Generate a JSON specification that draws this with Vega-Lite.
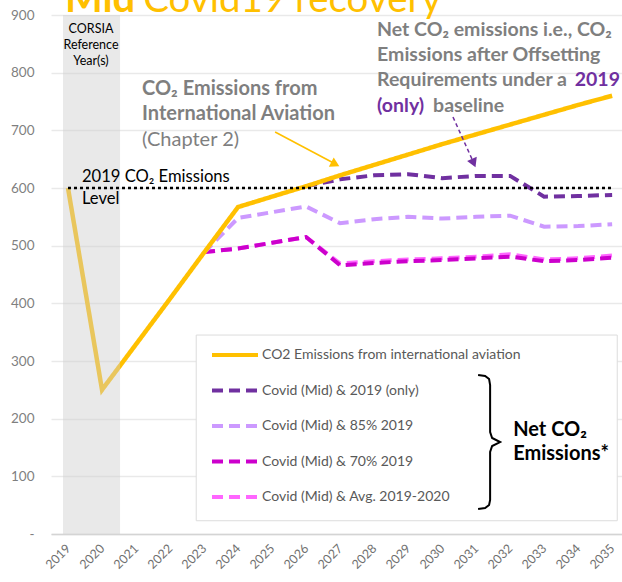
{
  "$schema": "https://vega.github.io/schema/vega-lite/v6.json",
  "width": 571,
  "height": 519,
  "autosize": {"type": "none"},
  "padding": {"left": 51, "top": 15, "right": 0, "bottom": 48},
  "background": "white",
  "config": {
    "view": {"stroke": null},
    "font": "Lato",
    "text": {"font": "Lato"},
    "axis": {"labelFont": "Lato"},
    "legend": {"labelFont": "Lato"}
  },
  "datasets": {
    "lines": [
      {"s": "CO2 Emissions from international aviation", "x": 2019, "y": 600},
      {"s": "CO2 Emissions from international aviation", "x": 2020, "y": 250},
      {"s": "CO2 Emissions from international aviation", "x": 2021, "y": 329},
      {"s": "CO2 Emissions from international aviation", "x": 2022, "y": 408},
      {"s": "CO2 Emissions from international aviation", "x": 2023, "y": 488},
      {"s": "CO2 Emissions from international aviation", "x": 2024, "y": 567},
      {"s": "CO2 Emissions from international aviation", "x": 2025, "y": 585},
      {"s": "CO2 Emissions from international aviation", "x": 2026, "y": 603},
      {"s": "CO2 Emissions from international aviation", "x": 2027, "y": 622},
      {"s": "CO2 Emissions from international aviation", "x": 2028, "y": 640},
      {"s": "CO2 Emissions from international aviation", "x": 2029, "y": 658},
      {"s": "CO2 Emissions from international aviation", "x": 2030, "y": 676},
      {"s": "CO2 Emissions from international aviation", "x": 2031, "y": 693},
      {"s": "CO2 Emissions from international aviation", "x": 2032, "y": 710},
      {"s": "CO2 Emissions from international aviation", "x": 2033, "y": 727},
      {"s": "CO2 Emissions from international aviation", "x": 2034, "y": 744},
      {"s": "CO2 Emissions from international aviation", "x": 2035, "y": 760},
      {"s": "Covid (Mid) & 2019 (only)", "x": 2026, "y": 603},
      {"s": "Covid (Mid) & 2019 (only)", "x": 2027, "y": 615},
      {"s": "Covid (Mid) & 2019 (only)", "x": 2028, "y": 622},
      {"s": "Covid (Mid) & 2019 (only)", "x": 2029, "y": 624},
      {"s": "Covid (Mid) & 2019 (only)", "x": 2030, "y": 617},
      {"s": "Covid (Mid) & 2019 (only)", "x": 2031, "y": 621},
      {"s": "Covid (Mid) & 2019 (only)", "x": 2032, "y": 621},
      {"s": "Covid (Mid) & 2019 (only)", "x": 2033, "y": 585},
      {"s": "Covid (Mid) & 2019 (only)", "x": 2034, "y": 586},
      {"s": "Covid (Mid) & 2019 (only)", "x": 2035, "y": 588},
      {"s": "Covid (Mid) & 85% 2019", "x": 2023, "y": 488},
      {"s": "Covid (Mid) & 85% 2019", "x": 2024, "y": 548},
      {"s": "Covid (Mid) & 85% 2019", "x": 2025, "y": 558},
      {"s": "Covid (Mid) & 85% 2019", "x": 2026, "y": 568},
      {"s": "Covid (Mid) & 85% 2019", "x": 2027, "y": 539},
      {"s": "Covid (Mid) & 85% 2019", "x": 2028, "y": 546},
      {"s": "Covid (Mid) & 85% 2019", "x": 2029, "y": 550},
      {"s": "Covid (Mid) & 85% 2019", "x": 2030, "y": 547},
      {"s": "Covid (Mid) & 85% 2019", "x": 2031, "y": 550},
      {"s": "Covid (Mid) & 85% 2019", "x": 2032, "y": 552},
      {"s": "Covid (Mid) & 85% 2019", "x": 2033, "y": 533},
      {"s": "Covid (Mid) & 85% 2019", "x": 2034, "y": 534},
      {"s": "Covid (Mid) & 85% 2019", "x": 2035, "y": 537},
      {"s": "Covid (Mid) & 70% 2019", "x": 2023, "y": 489},
      {"s": "Covid (Mid) & 70% 2019", "x": 2024, "y": 495},
      {"s": "Covid (Mid) & 70% 2019", "x": 2025, "y": 505},
      {"s": "Covid (Mid) & 70% 2019", "x": 2026, "y": 515},
      {"s": "Covid (Mid) & 70% 2019", "x": 2027, "y": 466},
      {"s": "Covid (Mid) & 70% 2019", "x": 2028, "y": 470},
      {"s": "Covid (Mid) & 70% 2019", "x": 2029, "y": 473},
      {"s": "Covid (Mid) & 70% 2019", "x": 2030, "y": 475},
      {"s": "Covid (Mid) & 70% 2019", "x": 2031, "y": 478},
      {"s": "Covid (Mid) & 70% 2019", "x": 2032, "y": 481},
      {"s": "Covid (Mid) & 70% 2019", "x": 2033, "y": 473},
      {"s": "Covid (Mid) & 70% 2019", "x": 2034, "y": 475},
      {"s": "Covid (Mid) & 70% 2019", "x": 2035, "y": 479},
      {"s": "Covid (Mid) & Avg. 2019-2020", "x": 2023, "y": 489},
      {"s": "Covid (Mid) & Avg. 2019-2020", "x": 2024, "y": 495},
      {"s": "Covid (Mid) & Avg. 2019-2020", "x": 2025, "y": 505},
      {"s": "Covid (Mid) & Avg. 2019-2020", "x": 2026, "y": 515},
      {"s": "Covid (Mid) & Avg. 2019-2020", "x": 2027, "y": 469},
      {"s": "Covid (Mid) & Avg. 2019-2020", "x": 2028, "y": 473},
      {"s": "Covid (Mid) & Avg. 2019-2020", "x": 2029, "y": 476},
      {"s": "Covid (Mid) & Avg. 2019-2020", "x": 2030, "y": 478},
      {"s": "Covid (Mid) & Avg. 2019-2020", "x": 2031, "y": 481},
      {"s": "Covid (Mid) & Avg. 2019-2020", "x": 2032, "y": 485},
      {"s": "Covid (Mid) & Avg. 2019-2020", "x": 2033, "y": 476},
      {"s": "Covid (Mid) & Avg. 2019-2020", "x": 2034, "y": 478},
      {"s": "Covid (Mid) & Avg. 2019-2020", "x": 2035, "y": 483}
    ]
  },
  "encoding": {
    "x": {
      "field": "x", "type": "quantitative",
      "scale": {"domain": [2018.5, 2035.29], "nice": false, "zero": false},
      "axis": {
        "title": null, "values": [2019,2020,2021,2022,2023,2024,2025,2026,2027,2028,2029,2030,2031,2032,2033,2034,2035],
        "format": "d", "labelAngle": -45, "labelAlign": "right", "labelBaseline": "middle",
        "labelFontSize": 12.5, "labelColor": "#707070", "ticks": false, "grid": false,
        "domainColor": "#d4d4d4", "domainWidth": 1.5, "labelPadding": 12, "labelOverlap": false
      }
    },
    "y": {
      "field": "y", "type": "quantitative",
      "scale": {"domain": [0, 900], "nice": false, "zero": true},
      "axis": {
        "title": null, "values": [0,100,200,300,400,500,600,700,800,900],
        "labelExpr": "datum.value == 0 ? '-' : datum.label",
        "labelFontSize": 13.5, "labelColor": "#7f7f7f", "ticks": false, "domain": false,
        "grid": true, "gridColor": "#e9e9e9", "gridWidth": 1.5, "labelPadding": 17
      }
    }
  },
  "layer": [
    {
      "data": {"values": [{"x": 2022.77, "x2": 2035.15, "y": 23, "y2": 345}]},
      "mark": {"type": "rect", "fill": "white", "stroke": "#dcdcdc", "strokeWidth": 1},
      "encoding": {"x2": {"field": "x2"}, "y2": {"field": "y2"}}
    },
    {
      "data": {"name": "lines"},
      "transform": [{"filter": "datum.s === 'Covid (Mid) & Avg. 2019-2020'"}],
      "mark": {"type": "line", "strokeWidth": 4},
      "encoding": {
        "color": {"field": "s", "type": "nominal",
          "scale": {"domain": ["CO2 Emissions from international aviation", "Covid (Mid) & 2019 (only)", "Covid (Mid) & 85% 2019", "Covid (Mid) & 70% 2019", "Covid (Mid) & Avg. 2019-2020"], "range": ["#FFC000", "#7030A0", "#CC99FF", "#CC00CC", "#FF66FF"]},
          "legend": {"orient": "none", "legendX": 159, "legendY": 332, "title": null, "symbolType": "stroke", "symbolSize": 2116, "symbolStrokeWidth": 4, "labelFontSize": 14, "labelColor": "#595959", "rowPadding": 19.5, "clipHeight": 16, "labelOffset": 2, "padding": 0, "labelLimit": 400}},
        "strokeDash": {"field": "s", "type": "nominal",
          "scale": {"domain": ["CO2 Emissions from international aviation", "Covid (Mid) & 2019 (only)", "Covid (Mid) & 85% 2019", "Covid (Mid) & 70% 2019", "Covid (Mid) & Avg. 2019-2020"], "range": [[1, 0], [11, 6], [11, 6], [11, 6], [11, 6]]},
          "legend": {"orient": "none", "legendX": 159, "legendY": 332, "title": null, "symbolType": "stroke", "symbolSize": 2116, "symbolStrokeWidth": 4, "labelFontSize": 14, "labelColor": "#595959", "rowPadding": 19.5, "clipHeight": 16, "labelOffset": 2, "padding": 0, "labelLimit": 400}}
      }
    },
    {
      "data": {"name": "lines"},
      "transform": [{"filter": "datum.s === 'Covid (Mid) & 70% 2019'"}],
      "mark": {"type": "line", "strokeWidth": 4},
      "encoding": {
        "color": {"field": "s", "type": "nominal"},
        "strokeDash": {"field": "s", "type": "nominal"}
      }
    },
    {
      "data": {"name": "lines"},
      "transform": [{"filter": "datum.s === 'Covid (Mid) & 85% 2019'"}],
      "mark": {"type": "line", "strokeWidth": 4},
      "encoding": {
        "color": {"field": "s", "type": "nominal"},
        "strokeDash": {"field": "s", "type": "nominal"}
      }
    },
    {
      "data": {"name": "lines"},
      "transform": [{"filter": "datum.s === 'Covid (Mid) & 2019 (only)'"}],
      "mark": {"type": "line", "strokeWidth": 4},
      "encoding": {
        "color": {"field": "s", "type": "nominal"},
        "strokeDash": {"field": "s", "type": "nominal"}
      }
    },
    {
      "data": {"name": "lines"},
      "transform": [{"filter": "datum.s === 'CO2 Emissions from international aviation'"}],
      "mark": {"type": "line", "strokeWidth": 4.5},
      "encoding": {
        "color": {"field": "s", "type": "nominal"},
        "strokeDash": {"field": "s", "type": "nominal"}
      }
    },
    {
      "data": {"values": [{"x": 2018.853, "x2": 2020.53, "y": 0, "y2": 900}]},
      "mark": {"type": "rect", "fill": "#cfcfcf", "opacity": 0.45},
      "encoding": {"x2": {"field": "x2"}, "y2": {"field": "y2"}}
    },
    {
      "data": {"values": [{"x": 2019, "x2": 2035, "y": 600}]},
      "mark": {"type": "rule", "color": "black", "strokeWidth": 2.5, "strokeDash": [3, 3]},
      "encoding": {"x2": {"field": "x2"}}
    },
    {
      "data": {"values": [{"x": 2025.09, "y": 697.1, "x2": 2026.85, "y2": 642}]},
      "mark": {"type": "rule", "color": "#FFC000", "strokeWidth": 1.6},
      "encoding": {"x2": {"field": "x2"}, "y2": {"field": "y2"}}
    },
    {
      "data": {"values": [{"x": 2026.86, "y": 641.2}]},
      "mark": {"type": "point", "shape": "triangle-right", "angle": 27.6, "filled": true, "color": "#FFC000", "size": 110, "opacity": 1},
      "encoding": {}
    },
    {
      "data": {"values": [{"x": 2030.32, "y": 723.1, "x2": 2030.88, "y2": 650}]},
      "mark": {"type": "rule", "color": "#7030A0", "strokeWidth": 1.5, "strokeDash": [4, 3]},
      "encoding": {"x2": {"field": "x2"}, "y2": {"field": "y2"}}
    },
    {
      "data": {"values": [{"x": 2030.93, "y": 643.3}]},
      "mark": {"type": "point", "shape": "triangle-right", "angle": 66.7, "filled": true, "color": "#7030A0", "size": 110, "opacity": 1},
      "encoding": {}
    },
    {
      "data": {"values": [
        {"o": 1, "x": 2031.059, "y": 275.7},
        {"o": 2, "x": 2031.265, "y": 274.0},
        {"o": 3, "x": 2031.382, "y": 268.8},
        {"o": 4, "x": 2031.412, "y": 258.4},
        {"o": 5, "x": 2031.412, "y": 176.9},
        {"o": 6, "x": 2031.471, "y": 166.5},
        {"o": 7, "x": 2031.706, "y": 159.5},
        {"o": 8, "x": 2031.471, "y": 152.6},
        {"o": 9, "x": 2031.412, "y": 142.2},
        {"o": 10, "x": 2031.412, "y": 59.0},
        {"o": 11, "x": 2031.382, "y": 50.3},
        {"o": 12, "x": 2031.265, "y": 45.1},
        {"o": 13, "x": 2031.059, "y": 43.4}
      ]},
      "mark": {"type": "line", "color": "black", "strokeWidth": 2},
      "encoding": {"order": {"field": "o", "type": "quantitative"}}
    },
    {
      "data": {"values": [{"x": 2018.91, "y": 905, "t": "Mid"}]},
      "mark": {"type": "text", "align": "left", "baseline": "alphabetic", "fontSize": 40, "fontWeight": "bold", "color": "#FFC000"},
      "encoding": {"text": {"field": "t"}}
    },
    {
      "data": {"values": [{"x": 2021.21, "y": 905, "t": "Covid19 recovery"}]},
      "mark": {"type": "text", "align": "left", "baseline": "alphabetic", "fontSize": 38.5, "color": "#FFC000"},
      "encoding": {"text": {"field": "t"}}
    },
    {
      "data": {"values": [{"x": 2019.676, "y": 875.7, "t": ["CORSIA", "Reference", "Year(s)"]}]},
      "mark": {"type": "text", "align": "center", "baseline": "middle", "fontSize": 12.5, "lineHeight": 16, "color": "black"},
      "encoding": {"text": {"field": "t"}}
    },
    {
      "data": {"values": [{"x": 2019.41, "y": 619, "t": "2019 CO₂ Emissions"}, {"x": 2019.41, "y": 581, "t": "Level"}]},
      "mark": {"type": "text", "align": "left", "baseline": "middle", "fontSize": 16.6, "color": "black"},
      "encoding": {"text": {"field": "t"}}
    },
    {
      "data": {"values": [{"x": 2021.176, "y": 771.7, "t": "CO₂ Emissions from"}, {"x": 2021.176, "y": 728.3, "t": "International Aviation"}]},
      "mark": {"type": "text", "align": "left", "baseline": "middle", "fontSize": 20, "fontWeight": "bold", "color": "#7f7f7f"},
      "encoding": {"text": {"field": "t"}}
    },
    {
      "data": {"values": [{"x": 2021.176, "y": 683.2, "t": "(Chapter 2)"}]},
      "mark": {"type": "text", "align": "left", "baseline": "middle", "fontSize": 20, "color": "#7f7f7f"},
      "encoding": {"text": {"field": "t"}}
    },
    {
      "data": {"values": [
        {"x": 2028.088, "y": 874, "t": "Net CO₂ emissions i.e.,  CO₂"},
        {"x": 2028.088, "y": 830.6, "t": "Emissions after Offsetting"},
        {"x": 2028.088, "y": 787.3, "t": "Requirements under a"},
        {"x": 2029.735, "y": 742.2, "t": "baseline"}
      ]},
      "mark": {"type": "text", "align": "left", "baseline": "middle", "fontSize": 19.5, "fontWeight": "bold", "color": "#7f7f7f"},
      "encoding": {"text": {"field": "t"}}
    },
    {
      "data": {"values": [
        {"x": 2033.9, "y": 787.3, "t": "2019"},
        {"x": 2028.088, "y": 742.2, "t": "(only)"}
      ]},
      "mark": {"type": "text", "align": "left", "baseline": "middle", "fontSize": 19.5, "fontWeight": "bold", "color": "#7030A0"},
      "encoding": {"text": {"field": "t"}}
    },
    {
      "data": {"values": [{"x": 2032.09, "y": 180.3, "t": "Net CO₂"}, {"x": 2032.09, "y": 138.7, "t": "Emissions*"}]},
      "mark": {"type": "text", "align": "left", "baseline": "middle", "fontSize": 20, "fontWeight": "bold", "color": "black"},
      "encoding": {"text": {"field": "t"}}
    }
  ]
}
